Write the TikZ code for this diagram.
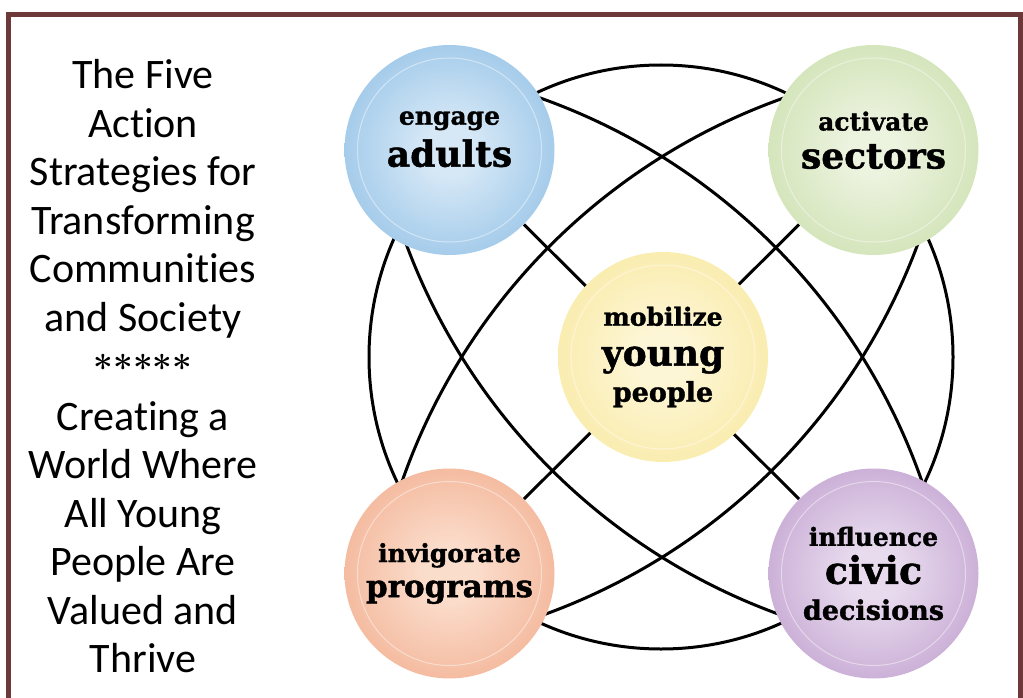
\documentclass[tikz,border=0pt]{standalone}
\usepackage{fontspec}
\usepackage{tikz}
\usetikzlibrary{backgrounds}

\newfontfamily\slab{DejaVu Serif}[BoldFeatures={FakeBold=1.3}]
\newfontfamily\gill{Carlito}[Ligatures=NoCommon]

\definecolor{framebrown}{RGB}{108,56,56}
\definecolor{adultsout}{HTML}{7FB6E2}
\definecolor{adultsin}{HTML}{D6E8F6}
\definecolor{sectorsout}{HTML}{C2DAA0}
\definecolor{sectorsin}{HTML}{ECF3DF}
\definecolor{youthout}{HTML}{F8E592}
\definecolor{youthin}{HTML}{FDF6D6}
\definecolor{programsout}{HTML}{EFA27F}
\definecolor{programsin}{HTML}{FBDDCC}
\definecolor{civicout}{HTML}{B690C6}
\definecolor{civicin}{HTML}{E8DBEE}
\colorlet{glowin}{white}
\colorlet{glowout}{gray}

\pgfdeclareradialshading[glowin,glowout]{glow}{\pgfpoint{0bp}{0bp}}%
  {color(0bp)=(glowin); color(6bp)=(glowin); color(40bp)=(glowout); color(50bp)=(glowout)}

\newcommand\smallword{\fontsize{25}{38}\selectfont}
\newcommand\midword{\fontsize{27}{38}\selectfont}
\newcommand\bigword{\fontsize{36}{38}\selectfont}

\tikzset{
  strategy/.style 2 args={circle, minimum size=210pt, inner sep=0pt, align=center,
    font=\slab\bfseries\smallword,
    /utils/exec={\colorlet{glowin}{#1}\colorlet{glowout}{#2}}, shading=glow},
  lift/.style={text depth=#1},
  sidetext/.style={align=center, inner sep=0pt, font=\gill\fontsize{42}{48.5}\selectfont},
  link/.style={line width=3pt, black},
  ring/.style={white, opacity=.45, line width=1pt},
}

\begin{document}
\begin{tikzpicture}[x=1pt, y=-1pt]
  \useasboundingbox (0,0) rectangle (1023,698);
  % frame, open at the bottom
  \draw[framebrown, line width=4.5pt] (8.5,705) -- (8.5,14.5) -- (1020.5,14.5) -- (1020.5,705);

  % left column
  \node[sidetext] (title) at (143,199) {The Five\\Action\\Strategies for\\Transforming\\Communities\\and Society};
  \node[inner sep=0pt, font=\bfseries\fontsize{35}{40}\selectfont] (stars) at (143,367) {*****};
  \node[sidetext] (motto) at (143,537) {Creating a\\World Where\\All Young\\People Are\\Valued and\\Thrive};

  % the five strategies
  \node[strategy={adultsin}{adultsout}, lift=22pt] (adults) at (449.5,150) {engage\\[4pt]{\bigword adults}};
  \node[strategy={sectorsin}{sectorsout}, lift=20pt] (sectors) at (873.5,150) {activate\\{\bigword sectors}};
  \node[strategy={youthin}{youthout}] (youth) at (663,357) {mobilize\\[2pt]{\bigword young}\\[-2pt]{\midword people}};
  \node[strategy={programsin}{programsout}] (programs) at (449.5,573.5) {invigorate\\[-3pt]{\fontsize{31}{38}\selectfont programs}};
  \node[strategy={civicin}{civicout}] (civic) at (873.5,573.5) {influence\\{\fontsize{38}{38}\selectfont civic}\\[-2pt]{\midword decisions}};
  \coordinate (hub) at (661,357);

  \begin{pgfonlayer}{background}
    \draw[link] (hub) circle[radius=292];
    \draw[link] (adults) -- (civic);
    \draw[link] (sectors) -- (programs);
    % two lenses, one on each diagonal
    \draw[link] (331,688) ++(-75:626) arc[start angle=-75, end angle=-15, radius=626];
    \draw[link] (993,26) ++(105:626) arc[start angle=105, end angle=165, radius=626];
    \draw[link] (993,688) ++(195:626) arc[start angle=195, end angle=255, radius=626];
    \draw[link] (331,26) ++(15:626) arc[start angle=15, end angle=75, radius=626];
  \end{pgfonlayer}

  % light rings just inside each disc
  \draw[ring] (adults) circle[radius=92];
  \draw[ring] (sectors) circle[radius=92];
  \draw[ring] (youth) circle[radius=92];
  \draw[ring] (programs) circle[radius=92];
  \draw[ring] (civic) circle[radius=92];
\end{tikzpicture}
\end{document}
